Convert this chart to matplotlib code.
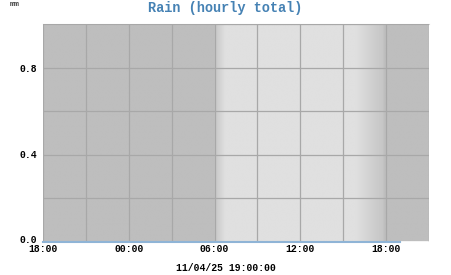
import numpy as np
import pandas as pd
import matplotlib
matplotlib.use('Agg')
import matplotlib.pyplot as plt
import matplotlib.dates as mdates
import matplotlib.transforms as mtransforms

# hourly rain totals (mm), 18:00 Nov 3 to 19:00 Nov 4
times = pd.date_range('2025-11-03 18:00', '2025-11-04 19:00', freq='h')
rain = [0.0] * 26

x_start = pd.Timestamp('2025-11-03 18:00')
x_end = pd.Timestamp('2025-11-04 21:00')
sunrise = pd.Timestamp('2025-11-04 06:00')
sunset = pd.Timestamp('2025-11-04 17:50')

night = 0xbe / 255.
day = 0xe0 / 255.

font = 'Liberation Mono'

fig = plt.figure(figsize=(4.51, 2.75), dpi=100)
ax = fig.add_axes([43/451, 1 - 241.5/275, 386/451, 217.5/275])

# day / night background with twilight gradient
t0 = mdates.date2num(x_start)
t1 = mdates.date2num(x_end)
tt = np.linspace(t0, t1, 2000)
hrs = (tt - mdates.date2num(sunrise)) * 24
hs = (mdates.date2num(sunset) - tt) * 24
shade = np.full(tt.shape, night)
isday = (hrs >= 0) & (hs >= 0)
ramp = np.minimum(np.clip(hrs / 0.75, 0, 1), np.clip(hs / 2.0, 0, 1))
ramp = 0.2 + 0.8 * ramp
shade[isday] = night + (day - night) * ramp[isday]
ax.imshow(np.tile(shade, (2, 1)), aspect='auto', cmap='gray', vmin=0, vmax=1,
          extent=[t0, t1, 0, 1], interpolation='bilinear', zorder=0)

ax.plot(mdates.date2num(times), rain, color='#8fb4d6', lw=1.5, zorder=3,
        clip_on=False)

ax.set_xlim(t0, t1)
ax.set_ylim(0, 1)
ax.xaxis.set_major_locator(mdates.HourLocator(byhour=[0, 6, 12, 18]))
ax.xaxis.set_minor_locator(mdates.HourLocator(interval=3))
ax.xaxis.set_major_formatter(mdates.DateFormatter('%H:%M'))
ax.set_yticks([0, 0.4, 0.8])
ax.set_yticks(np.arange(0, 1.01, 0.2), minor=True)
ax.set_yticklabels(['0.0', '0.4', '0.8'])
ax.grid(True, which='both', color='#a8a8a8', lw=0.9, zorder=1)
ax.set_axisbelow(False)
for s in ax.spines.values():
    s.set_visible(False)
ax.spines['top'].set_visible(True)
ax.spines['top'].set_color('#d4d4d4')
ax.tick_params(which='both', length=0, pad=4)
ax.tick_params(axis='x', pad=2)
for lab in ax.get_xticklabels() + ax.get_yticklabels():
    lab.set_fontfamily(font)
    lab.set_fontweight('bold')
    lab.set_fontsize(7)
# lift the bottom y label a little so it clears the time labels
lab0 = ax.get_yticklabels()[0]
lab0.set_transform(lab0.get_transform() +
                   mtransforms.ScaledTranslation(0, 2.5/100, fig.dpi_scale_trans))

fig.text(0.5, 1 - 8/275, 'Rain (hourly total)', ha='center', va='center',
         family=font, fontweight='bold', fontsize=9.8, color='#4682b4')
fig.text(10/451, 1 - 5/275, 'mm', ha='left', va='center',
         family=font, fontweight='bold', fontsize=6, color='#444444')
fig.text(0.5, 1 - 268/275, '11/04/25 19:00:00', ha='center', va='center',
         family=font, fontweight='bold', fontsize=7, color='black')

fig.savefig('out.png', dpi=100)
